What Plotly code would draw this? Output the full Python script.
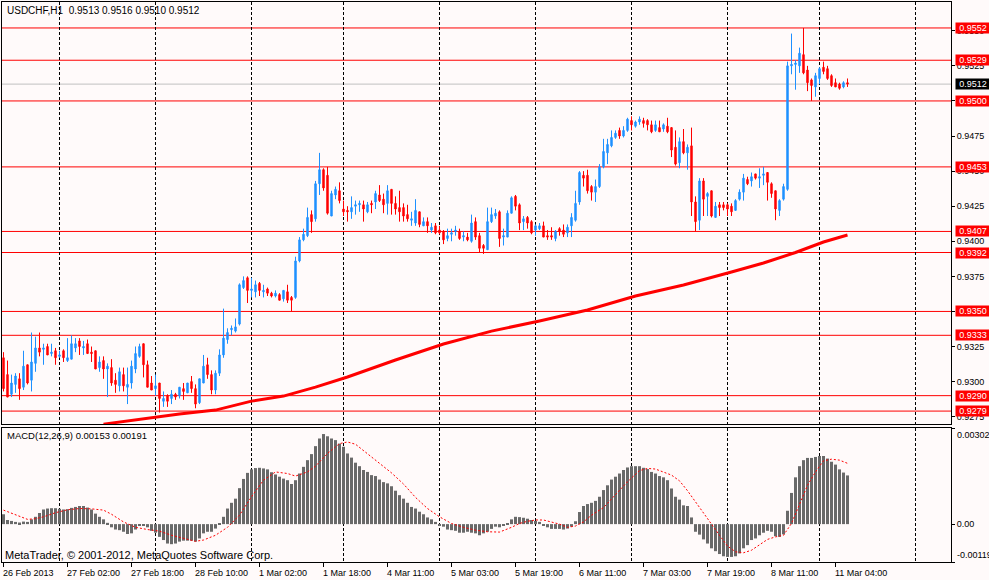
import plotly.graph_objects as go

# USDCHF H1, one bar per hour, 26 Feb 2013 10:00 .. 11 Mar 2013 07:00
bar_open = [
    0.9317, 0.9305, 0.9291, 0.9298, 0.9302, 0.9296, 0.9312, 0.9301, 0.9313, 0.9324,
    0.9323, 0.9325, 0.9320, 0.9322, 0.9318, 0.9322, 0.9315, 0.9316, 0.9324, 0.9329,
    0.9324, 0.9327, 0.9321, 0.9322, 0.9310, 0.9315, 0.9309, 0.9310, 0.9301, 0.9297,
    0.9305, 0.9296, 0.9299, 0.9309, 0.9318, 0.9327, 0.9312, 0.9299, 0.9295, 0.9299,
    0.9286, 0.9290, 0.9288, 0.9291, 0.9290, 0.9295, 0.9292, 0.9300, 0.9295, 0.9285,
    0.9299, 0.9312, 0.9305, 0.9294, 0.9306, 0.9319, 0.9330, 0.9337, 0.9336, 0.9341,
    0.9367, 0.9374, 0.9365, 0.9364, 0.9370, 0.9364, 0.9366, 0.9363, 0.9361, 0.9362,
    0.9359, 0.9364, 0.9360, 0.9360, 0.9386, 0.9401, 0.9404, 0.9419, 0.9416, 0.9441,
    0.9451, 0.9447, 0.9418, 0.9433, 0.9436, 0.9423, 0.9422, 0.9421, 0.9425, 0.9426,
    0.9426, 0.9421, 0.9427, 0.9428, 0.9433, 0.9430, 0.9427, 0.9437, 0.9427, 0.9424,
    0.9424, 0.9419, 0.9415, 0.9413, 0.9421, 0.9411, 0.9414, 0.9408, 0.9411, 0.9408,
    0.9407, 0.9402, 0.9405, 0.9407, 0.9407, 0.9403, 0.9403, 0.9400, 0.9414, 0.9404,
    0.9397, 0.9394, 0.9414, 0.9418, 0.9421, 0.9403, 0.9403, 0.9420, 0.9432, 0.9426,
    0.9414, 0.9417, 0.9414, 0.9408, 0.9409, 0.9411, 0.9404, 0.9404, 0.9402, 0.9409,
    0.9408, 0.9406, 0.9411, 0.9415, 0.9428, 0.9447, 0.9447, 0.9439, 0.9435, 0.9439,
    0.9453, 0.9463, 0.9468, 0.9474, 0.9479, 0.9475, 0.9479, 0.9486, 0.9482, 0.9485,
    0.9486, 0.9486, 0.9483, 0.9479, 0.9481, 0.9480, 0.9482, 0.9481, 0.9467, 0.9456,
    0.9471, 0.9463, 0.9468, 0.9428, 0.9415, 0.9443, 0.9432, 0.9436, 0.9417, 0.9426,
    0.9426, 0.9426, 0.9425, 0.9422, 0.9430, 0.9435, 0.9444, 0.9443, 0.9448, 0.9445,
    0.9447, 0.9449, 0.9441, 0.9436, 0.9422, 0.9430, 0.9437, 0.9525, 0.9526, 0.9525,
    0.9533, 0.9522, 0.9515, 0.9510, 0.9516, 0.9524, 0.9523, 0.9518, 0.9513, 0.9512,
    0.9510, 0.9513,
]
bar_high = [
    0.9321, 0.9315, 0.9305, 0.9306, 0.9306, 0.9322, 0.9312, 0.9335, 0.9332, 0.9335,
    0.9327, 0.9327, 0.9327, 0.9324, 0.9322, 0.9323, 0.9331, 0.9333, 0.9331, 0.9331,
    0.9329, 0.9330, 0.9325, 0.9322, 0.9318, 0.9318, 0.9313, 0.9316, 0.9306, 0.9310,
    0.9310, 0.9310, 0.9315, 0.9325, 0.9327, 0.9327, 0.9315, 0.9304, 0.9305, 0.9299,
    0.9293, 0.9291, 0.9294, 0.9292, 0.9296, 0.9299, 0.9299, 0.9304, 0.9298, 0.9302,
    0.9319, 0.9317, 0.9308, 0.9308, 0.9323, 0.9352, 0.9338, 0.9340, 0.9345, 0.9370,
    0.9375, 0.9375, 0.9374, 0.9372, 0.9371, 0.9369, 0.9367, 0.9364, 0.9365, 0.9363,
    0.9365, 0.9369, 0.9361, 0.9389, 0.9403, 0.9409, 0.9424, 0.9422, 0.9443, 0.9463,
    0.9452, 0.9453, 0.9436, 0.9439, 0.9442, 0.9429, 0.9425, 0.9432, 0.9429, 0.9429,
    0.9429, 0.9428, 0.9429, 0.9436, 0.9440, 0.9434, 0.9440, 0.9437, 0.9432, 0.9436,
    0.9427, 0.9426, 0.9421, 0.9430, 0.9421, 0.9417, 0.9417, 0.9413, 0.9413, 0.9411,
    0.9408, 0.9409, 0.9409, 0.9411, 0.9409, 0.9407, 0.9406, 0.9419, 0.9417, 0.9406,
    0.9398, 0.9424, 0.9424, 0.9423, 0.9422, 0.9409, 0.9422, 0.9432, 0.9433, 0.9427,
    0.9418, 0.9418, 0.9415, 0.9412, 0.9413, 0.9414, 0.9408, 0.9410, 0.9408, 0.9410,
    0.9412, 0.9412, 0.9420, 0.9436, 0.9450, 0.9450, 0.9451, 0.9440, 0.9444, 0.9455,
    0.9473, 0.9473, 0.9479, 0.9479, 0.9481, 0.9482, 0.9488, 0.9489, 0.9486, 0.9489,
    0.9488, 0.9487, 0.9486, 0.9486, 0.9486, 0.9484, 0.9488, 0.9481, 0.9479, 0.9474,
    0.9480, 0.9469, 0.9481, 0.9432, 0.9445, 0.9445, 0.9435, 0.9436, 0.9428, 0.9428,
    0.9428, 0.9427, 0.9427, 0.9430, 0.9437, 0.9448, 0.9446, 0.9449, 0.9448, 0.9452,
    0.9453, 0.9449, 0.9442, 0.9436, 0.9430, 0.9441, 0.9528, 0.9548, 0.9529, 0.9538,
    0.9552, 0.9525, 0.9516, 0.9520, 0.9524, 0.9528, 0.9525, 0.9519, 0.9516, 0.9513,
    0.9514, 0.9516,
]
bar_low = [
    0.9293, 0.9289, 0.9289, 0.9292, 0.9287, 0.9294, 0.9298, 0.9293, 0.9307, 0.9318,
    0.9312, 0.9319, 0.9318, 0.9312, 0.9317, 0.9314, 0.9314, 0.9316, 0.9321, 0.9319,
    0.9319, 0.9320, 0.9314, 0.9309, 0.9307, 0.9302, 0.9289, 0.9297, 0.9292, 0.9293,
    0.9293, 0.9284, 0.9295, 0.9306, 0.9317, 0.9303, 0.9296, 0.9294, 0.9290, 0.9278,
    0.9282, 0.9282, 0.9284, 0.9287, 0.9288, 0.9287, 0.9292, 0.9292, 0.9281, 0.9284,
    0.9299, 0.9302, 0.9291, 0.9291, 0.9304, 0.9317, 0.9327, 0.9333, 0.9335, 0.9340,
    0.9366, 0.9356, 0.9360, 0.9360, 0.9361, 0.9360, 0.9361, 0.9360, 0.9360, 0.9358,
    0.9357, 0.9356, 0.9350, 0.9359, 0.9385, 0.9400, 0.9403, 0.9406, 0.9414, 0.9433,
    0.9436, 0.9419, 0.9418, 0.9430, 0.9427, 0.9418, 0.9414, 0.9416, 0.9419, 0.9421,
    0.9414, 0.9420, 0.9420, 0.9423, 0.9428, 0.9420, 0.9419, 0.9419, 0.9419, 0.9414,
    0.9414, 0.9414, 0.9411, 0.9411, 0.9410, 0.9411, 0.9406, 0.9406, 0.9405, 0.9405,
    0.9398, 0.9400, 0.9400, 0.9404, 0.9401, 0.9400, 0.9400, 0.9399, 0.9401, 0.9392,
    0.9391, 0.9394, 0.9413, 0.9416, 0.9396, 0.9397, 0.9403, 0.9420, 0.9422, 0.9408,
    0.9408, 0.9409, 0.9405, 0.9404, 0.9408, 0.9403, 0.9401, 0.9401, 0.9400, 0.9404,
    0.9403, 0.9403, 0.9403, 0.9414, 0.9426, 0.9439, 0.9434, 0.9429, 0.9428, 0.9438,
    0.9452, 0.9455, 0.9467, 0.9473, 0.9473, 0.9474, 0.9478, 0.9479, 0.9481, 0.9483,
    0.9481, 0.9479, 0.9477, 0.9478, 0.9478, 0.9478, 0.9477, 0.9460, 0.9454, 0.9452,
    0.9462, 0.9451, 0.9418, 0.9407, 0.9408, 0.9418, 0.9418, 0.9417, 0.9417, 0.9418,
    0.9422, 0.9418, 0.9418, 0.9422, 0.9429, 0.9429, 0.9440, 0.9439, 0.9444, 0.9438,
    0.9440, 0.9429, 0.9431, 0.9415, 0.9418, 0.9429, 0.9436, 0.9519, 0.9508, 0.9520,
    0.9519, 0.9507, 0.9500, 0.9503, 0.9512, 0.9519, 0.9515, 0.9510, 0.9510, 0.9508,
    0.9509, 0.9510,
]
bar_close = [
    0.9295, 0.9289, 0.9299, 0.9304, 0.9295, 0.9311, 0.9299, 0.9314, 0.9324, 0.9321,
    0.9324, 0.9319, 0.9321, 0.9317, 0.9319, 0.9317, 0.9317, 0.9327, 0.9327, 0.9325,
    0.9325, 0.9320, 0.9320, 0.9309, 0.9314, 0.9309, 0.9311, 0.9299, 0.9298, 0.9307,
    0.9297, 0.9298, 0.9311, 0.9320, 0.9325, 0.9312, 0.9296, 0.9294, 0.9297, 0.9288,
    0.9288, 0.9286, 0.9291, 0.9289, 0.9296, 0.9293, 0.9299, 0.9295, 0.9284, 0.9302,
    0.9311, 0.9305, 0.9294, 0.9306, 0.9319, 0.9331, 0.9335, 0.9338, 0.9339, 0.9369,
    0.9372, 0.9365, 0.9366, 0.9369, 0.9365, 0.9365, 0.9363, 0.9361, 0.9363, 0.9358,
    0.9365, 0.9358, 0.9358, 0.9386, 0.9401, 0.9405, 0.9417, 0.9414, 0.9441, 0.9451,
    0.9438, 0.9420, 0.9434, 0.9437, 0.9429, 0.9421, 0.9421, 0.9424, 0.9426, 0.9427,
    0.9423, 0.9426, 0.9426, 0.9434, 0.9429, 0.9426, 0.9436, 0.9427, 0.9423, 0.9421,
    0.9418, 0.9416, 0.9416, 0.9422, 0.9412, 0.9414, 0.9411, 0.9410, 0.9406, 0.9406,
    0.9401, 0.9404, 0.9406, 0.9408, 0.9402, 0.9404, 0.9401, 0.9413, 0.9403, 0.9395,
    0.9395, 0.9414, 0.9419, 0.9420, 0.9402, 0.9404, 0.9420, 0.9431, 0.9425, 0.9413,
    0.9416, 0.9413, 0.9406, 0.9411, 0.9411, 0.9403, 0.9403, 0.9403, 0.9407, 0.9407,
    0.9405, 0.9410, 0.9417, 0.9427, 0.9449, 0.9445, 0.9436, 0.9435, 0.9439, 0.9453,
    0.9464, 0.9469, 0.9474, 0.9477, 0.9475, 0.9479, 0.9487, 0.9483, 0.9485, 0.9487,
    0.9484, 0.9483, 0.9478, 0.9483, 0.9478, 0.9483, 0.9478, 0.9465, 0.9455, 0.9471,
    0.9463, 0.9467, 0.9428, 0.9414, 0.9443, 0.9430, 0.9434, 0.9418, 0.9425, 0.9424,
    0.9424, 0.9423, 0.9421, 0.9429, 0.9435, 0.9445, 0.9441, 0.9446, 0.9445, 0.9446,
    0.9448, 0.9442, 0.9434, 0.9423, 0.9429, 0.9439, 0.9525, 0.9526, 0.9527, 0.9534,
    0.9520, 0.9513, 0.9511, 0.9518, 0.9523, 0.9521, 0.9516, 0.9511, 0.9510, 0.9509,
    0.9513, 0.9512,
]

ma_bars = [25, 34, 44, 53, 62, 70, 78, 86, 98, 110, 122, 134, 146, 158, 170, 182, 190, 198, 205, 211]
ma_values = [0.92697, 0.92733, 0.92769, 0.92797, 0.92861, 0.92897, 0.92961, 0.93033, 0.93154, 0.93268,
             0.93360, 0.93432, 0.93510, 0.93610, 0.93688, 0.93781, 0.93845, 0.93920, 0.93995, 0.94045]

# MACD(12,26,9) main histogram, one value per bar
macd_main = [
    0.00031, 0.00013, 0.00010, 0.00007, 0.00005, 0.00008, 0.00007, 0.00015, 0.00023, 0.00035,
    0.00046, 0.00049, 0.00050, 0.00050, 0.00048, 0.00046, 0.00047, 0.00051, 0.00054, 0.00057,
    0.00057, 0.00052, 0.00046, 0.00033, 0.00023, 0.00015, 0.00004, -0.00010, -0.00017, -0.00019,
    -0.00024, -0.00031, -0.00029, -0.00017, -0.00006, -0.00003, -0.00010, -0.00021, -0.00027, -0.00040,
    -0.00050, -0.00061, -0.00063, -0.00061, -0.00055, -0.00052, -0.00052, -0.00052, -0.00055, -0.00045,
    -0.00029, -0.00024, -0.00024, -0.00014, 0.00002, 0.00023, 0.00049, 0.00067, 0.00080, 0.00113,
    0.00142, 0.00161, 0.00172, 0.00176, 0.00177, 0.00175, 0.00172, 0.00163, 0.00156, 0.00149,
    0.00143, 0.00138, 0.00126, 0.00138, 0.00159, 0.00180, 0.00201, 0.00220, 0.00245, 0.00269,
    0.00283, 0.00276, 0.00269, 0.00264, 0.00253, 0.00243, 0.00222, 0.00209, 0.00193, 0.00182,
    0.00170, 0.00164, 0.00154, 0.00151, 0.00140, 0.00132, 0.00128, 0.00119, 0.00105, 0.00091,
    0.00080, 0.00067, 0.00054, 0.00049, 0.00039, 0.00031, 0.00021, 0.00015, 0.00007, -0.00006,
    -0.00008, -0.00017, -0.00019, -0.00021, -0.00027, -0.00027, -0.00024, -0.00027, -0.00029, -0.00035,
    -0.00029, -0.00024, -0.00015, -0.00008, -0.00010, -0.00003, 0.00001, 0.00015, 0.00023, 0.00022,
    0.00020, 0.00017, 0.00013, 0.00010, 0.00007, -0.00006, -0.00010, -0.00015, -0.00015, -0.00015,
    -0.00017, -0.00014, -0.00008, 0.00009, 0.00038, 0.00057, 0.00063, 0.00067, 0.00073, 0.00086,
    0.00107, 0.00122, 0.00140, 0.00149, 0.00159, 0.00170, 0.00178, 0.00182, 0.00182, 0.00182,
    0.00177, 0.00173, 0.00164, 0.00159, 0.00151, 0.00147, 0.00138, 0.00112, 0.00086, 0.00077,
    0.00059, 0.00057, 0.00021, -0.00024, -0.00033, -0.00048, -0.00061, -0.00076, -0.00085, -0.00094,
    -0.00101, -0.00103, -0.00103, -0.00101, -0.00092, -0.00076, -0.00066, -0.00050, -0.00045, -0.00035,
    -0.00027, -0.00021, -0.00024, -0.00038, -0.00040, -0.00032, 0.00042, 0.00098, 0.00147, 0.00182,
    0.00201, 0.00208, 0.00208, 0.00211, 0.00214, 0.00214, 0.00206, 0.00196, 0.00187, 0.00172,
    0.00162, 0.00153,
]

signal_bars = [0, 3, 6, 8, 10, 13, 16, 19, 22, 25, 27, 30, 33, 36, 39, 42, 45, 48, 50, 53,
               56, 59, 62, 65, 68, 71, 73, 76, 78, 81, 84, 86, 88, 91, 94, 97, 100, 103, 106, 109,
               112, 115, 118, 121, 124, 127, 129, 131, 133, 135, 137, 139, 141, 143, 145, 147, 150, 153, 156, 159,
               161, 163, 165, 167, 169, 171, 173, 175, 177, 179, 181, 183, 185, 187, 189, 191, 193, 195, 197, 199,
               201, 203, 205, 207, 209, 211]
signal_values = [0.00044, 0.00030, 0.00015, 0.00017, 0.00023, 0.00036, 0.00045, 0.00049, 0.00048, 0.00044,
                 0.00031, 0.00007, -0.00010, -0.00017, -0.00022, -0.00035, -0.00045, -0.00054, -0.00050, -0.00035,
                 -0.00010, 0.00028, 0.00086, 0.00138, 0.00164, 0.00159, 0.00151, 0.00164, 0.00182, 0.00222,
                 0.00253, 0.00258, 0.00251, 0.00222, 0.00191, 0.00161, 0.00126, 0.00084, 0.00049, 0.00023,
                 0.00002, -0.00010, -0.00019, -0.00024, -0.00025, -0.00010, 0.00002, 0.00009, 0.00013, 0.00013,
                 0.00007, 0.00000, -0.00010, -0.00006, 0.00007, 0.00028, 0.00052, 0.00094, 0.00133, 0.00168,
                 0.00175, 0.00173, 0.00164, 0.00154, 0.00136, 0.00105, 0.00070, 0.00033, 0.00000, -0.00035,
                 -0.00069, -0.00087, -0.00090, -0.00082, -0.00066, -0.00048, -0.00040, -0.00035, 0.00002, 0.00065,
                 0.00122, 0.00164, 0.00199, 0.00204, 0.00201, 0.00191]

level_prices = [0.9552, 0.9529, 0.9500, 0.9453, 0.9407, 0.9392, 0.9350, 0.9333, 0.9290, 0.9279]
bid_price = 0.9512

price_ticks = [0.9275, 0.9300, 0.9325, 0.9350, 0.9375, 0.9400, 0.9425, 0.9450, 0.9475, 0.9500, 0.9525, 0.9550]
macd_ticks = [-0.00119, 0.0, 0.00302]

time_tick_bars = [0, 16, 32, 48, 64, 80, 96, 112, 128, 144, 160, 176, 192, 208]
time_tick_labels = ["26 Feb 2013", "27 Feb 02:00", "27 Feb 18:00", "28 Feb 10:00", "1 Mar 02:00",
                    "1 Mar 18:00", "4 Mar 11:00", "5 Mar 03:00", "5 Mar 19:00", "6 Mar 11:00",
                    "7 Mar 03:00", "7 Mar 19:00", "8 Mar 11:00", "11 Mar 04:00"]
day_grid_bars = [14, 38, 62, 85, 109, 133, 157, 181, 204, 228]

W, H = 989, 580
BG = "#FFFAFA"
FONT = "Liberation Sans"
bars = list(range(len(bar_open)))

fig = go.Figure()
fig.add_trace(go.Candlestick(
    x=bars, open=bar_open, high=bar_high, low=bar_low, close=bar_close,
    increasing=dict(line=dict(color="#1E90FF", width=1), fillcolor="#1E90FF"),
    decreasing=dict(line=dict(color="#FF0000", width=1), fillcolor="#FF0000"),
    xaxis="x", yaxis="y", hoverinfo="skip",
))
fig.add_trace(go.Scatter(x=ma_bars, y=ma_values, mode="lines",
                         line=dict(color="#FF0000", width=3), xaxis="x", yaxis="y"))
fig.add_trace(go.Bar(x=bars, y=macd_main, marker=dict(color="#696969", line=dict(width=0)),
                     xaxis="x2", yaxis="y2"))
fig.add_trace(go.Scatter(x=signal_bars, y=signal_values, mode="lines",
                         line=dict(color="#FF0000", width=1, dash="2px,2px"), xaxis="x2", yaxis="y2"))

xdom = [2 / W, 951 / W]
xrange = [-0.375, 236.875]
grid_minor = dict(tickmode="array", tickvals=day_grid_bars, showgrid=True,
                  gridcolor="black", gridwidth=1, griddash="3px,2px", ticks="")
box_line = dict(showline=True, mirror=True, linecolor="black", linewidth=1, zeroline=False)

fig.update_layout(
    width=W, height=H, autosize=False,
    margin=dict(l=0, r=0, t=0, b=0),
    paper_bgcolor=BG, plot_bgcolor=BG,
    showlegend=False, bargap=0.25, boxgap=0.5,
    font=dict(family=FONT, size=9, color="black"),
    xaxis=dict(domain=xdom, range=xrange, anchor="y", showticklabels=False, ticks="",
               showgrid=False, minor=grid_minor, rangeslider=dict(visible=False), **box_line),
    xaxis2=dict(domain=xdom, range=xrange, anchor="y2", tickmode="array", tickvals=time_tick_bars,
                showticklabels=False, ticks="outside", ticklen=4, tickcolor="black",
                showgrid=False, minor=grid_minor, **box_line),
    yaxis=dict(domain=[1 - 424 / H, 1 - 2 / H], range=[0.92698, 0.95705], anchor="x", side="right",
               tickmode="array", tickvals=price_ticks, tickformat=".4f", ticks="outside", ticklen=3,
               tickcolor="black", showgrid=False, **box_line),
    yaxis2=dict(domain=[1 - 562 / H, 1 - 428 / H], range=[-0.00119, 0.00302], anchor="x2", side="right",
                tickmode="array", tickvals=macd_ticks, ticktext=["", "0.00", ""], ticks="outside",
                ticklen=3, tickcolor="black", showgrid=False, **box_line),
)

# horizontal price levels with their tags on the price scale
for p in level_prices:
    fig.add_shape(type="line", xref="x domain", x0=0, x1=1, yref="y", y0=p, y1=p,
                  line=dict(color="#FF0000", width=1), layer="below")
    fig.add_annotation(x=954.5 / W, xref="paper", xanchor="left", y=p, yref="y", yanchor="middle",
                       text=f"{p:.4f}", showarrow=False, bgcolor="#FF0000", borderpad=0,
                       width=34, height=10, font=dict(color="white", size=9, family=FONT))
fig.add_shape(type="line", xref="x domain", x0=0, x1=1, yref="y", y0=bid_price, y1=bid_price,
              line=dict(color="#C0C0C0", width=1), layer="below")
fig.add_annotation(x=954.5 / W, xref="paper", xanchor="left", y=bid_price, yref="y", yanchor="middle",
                   text=f"{bid_price:.4f}", showarrow=False, bgcolor="black", borderpad=0,
                   width=34, height=10, font=dict(color="white", size=9, family=FONT))

# MACD scale extremes
fig.add_annotation(x=955 / W, xref="paper", xanchor="left", y=1, yref="y2 domain", yanchor="top",
                   text="0.00302", showarrow=False)
fig.add_annotation(x=955 / W, xref="paper", xanchor="left", y=0, yref="y2 domain", yanchor="bottom",
                   text="-0.00119", showarrow=False)

# time labels, left-aligned at their tick like the terminal does it
for b, lab in zip(time_tick_bars, time_tick_labels):
    fig.add_annotation(x=b, xref="x2", xanchor="left", xshift=-3, y=1 - 573 / H, yref="paper",
                       yanchor="middle", text=lab, showarrow=False)

fig.add_annotation(x=5 / W, xref="paper", xanchor="left", y=1 - 11 / H, yref="paper", yanchor="middle",
                   text="USDCHF,H1  0.9513 0.9516 0.9510 0.9512", showarrow=False, font=dict(size=10))
fig.add_annotation(x=5 / W, xref="paper", xanchor="left", y=1 - 436 / H, yref="paper", yanchor="middle",
                   text="MACD(12,26,9) 0.00153 0.00191", showarrow=False, font=dict(size=9.5))
fig.add_annotation(x=3 / W, xref="paper", xanchor="left", y=1 - 555 / H, yref="paper", yanchor="middle",
                   text="MetaTrader, © 2001-2012, MetaQuotes Software Corp.", showarrow=False,
                   font=dict(size=11))

# the page body keeps its default 8px margin otherwise
fig.write_html("out.html", config={"displayModeBar": False},
               post_script="document.body.style.margin = '0';")
